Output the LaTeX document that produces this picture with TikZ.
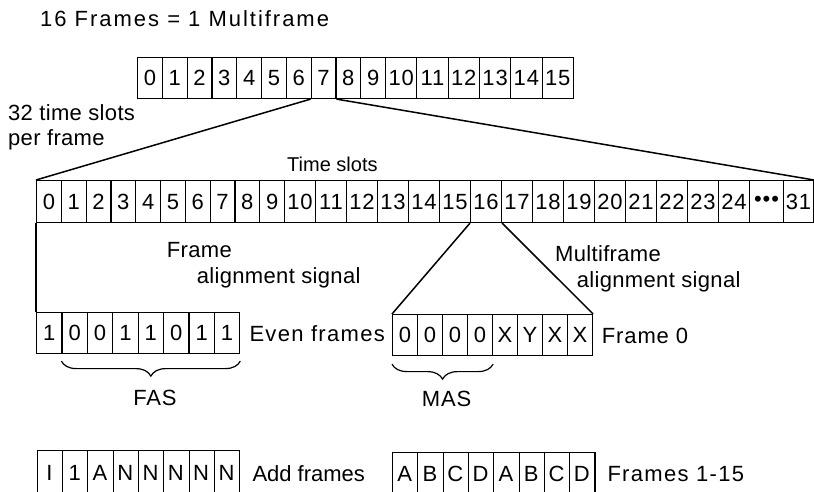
\documentclass[tikz,border=0pt]{standalone}
\usepackage{fontspec}
\setmainfont{Liberation Sans}[LetterSpace=4]
\newfontfamily\titlefont{Liberation Sans}[LetterSpace=9]
\newfontfamily\plainfont{Liberation Sans}
\newfontfamily\narrowfont{Liberation Sans}[LetterSpace=1.5]
\newfontfamily\widefont{Liberation Sans}[LetterSpace=6]
\usetikzlibrary{decorations.pathreplacing}
\begin{document}
\begin{tikzpicture}[x=1pt,y=-1pt,
  every node/.style={font=\fontsize{22}{25}\selectfont},
  cell/.style={draw, line width=1.1pt, inner sep=0pt, anchor=north west, minimum height=41pt},
  link/.style={line width=1.5pt},
  lbl/.style={inner sep=0pt, anchor=base west},
  multi/.style={inner sep=0pt, anchor=north west, align=left},
  brc/.style={decorate, decoration={brace, mirror, amplitude=15pt}, line width=1.2pt}]
\useasboundingbox (0,0) rectangle (814,491);

% title
\node[lbl, font=\titlefont\fontsize{22}{25}\selectfont] (title) at (40,26.7) {16 Frames = 1 Multiframe};

% multiframe row
\foreach \i in {0,...,9}
  \node[cell, minimum width=24.8pt] (f\i) at ({137+24.8*\i},57) {\i};
\foreach \i in {10,...,15}
  \node[cell, minimum width=31.3pt] (f\i) at ({385+31.3*(\i-10)},57) {\i};

\node[multi, font=\narrowfont\fontsize{22}{25}\selectfont] (tsl) at (8,104.5) {32 time slots\\per frame};

% time slot row
\foreach \i in {0,...,9}
  \node[cell, minimum width=24.8pt, minimum height=42pt] (t\i) at ({36+24.8*\i},180) {\i};
\foreach \i in {10,...,24}
  \node[cell, minimum width=31pt, minimum height=42pt] (t\i) at ({284+31*(\i-10)},180) {\i};
\node[cell, minimum width=34pt, minimum height=42pt] (tdots) at (749,180) {\textbullet\textbullet\textbullet};
\node[cell, minimum width=30pt, minimum height=42pt] (t31) at (783,180) {31};
\node[lbl, font=\plainfont\fontsize{20}{24}\selectfont] (tslabel) at (287,171.5) {Time slots};

% FAS row
\foreach \c [count=\i from 0] in {1,0,0,1,1,0,1,1}
  \node[cell, minimum width=25.4pt] (fas\i) at ({36+25.4*\i},312) {\c};
\node[lbl, font=\widefont\fontsize{22}{25}\selectfont] (even) at (249.3,341.7) {Even frames};

% MAS row
\foreach \c [count=\i from 0] in {0,0,0,0,X,Y,X,X}
  \node[cell, minimum width=25pt] (mas\i) at ({392+25*\i},314) {\c};
\node[lbl] (frame0) at (601.7,343.3) {Frame 0};

% labels of signals
\node[multi, font=\narrowfont\fontsize{22}{25}\selectfont] (fasl) at (166.7,241.7) {Frame\\[1.5pt]\hspace*{30pt}alignment signal};
\node[multi, font=\narrowfont\fontsize{22}{25}\selectfont] (masl) at (555,245) {Multiframe\\[1pt]\hspace*{21.7pt}alignment signal};

% braces
\draw[brc] ([yshift=-7pt]fas1.south west) -- ([yshift=-7pt]fas7.south east);
\node[inner sep=0pt, anchor=base] (faslbl) at (155,405) {FAS};
\draw[brc] ([yshift=-8pt]mas0.south west) -- ([yshift=-8pt]mas3.south east);
\node[inner sep=0pt, anchor=base] (maslbl) at (446.7,406.7) {MAS};

% bottom rows
\foreach \c [count=\i from 0] in {I,1,A,N,N,N,N,N}
  \node[cell, minimum width=25.3pt, minimum height=46pt] (add\i) at ({36.7+25.3*\i},450) {};
\foreach \c [count=\i from 0] in {I,1,A,N,N,N,N,N}
  \node[inner sep=0pt] (addt\i) at ({36.7+25.3*\i+12.65},473) {\c};
\node[lbl, font=\plainfont\fontsize{22}{25}\selectfont] (addl) at (252.3,481.7) {Add frames};
\foreach \c [count=\i from 0] in {A,B,C,D,A,B,C,D}
  \node[cell, minimum width=25.3pt, minimum height=46pt] (abc\i) at ({392+25.3*\i},452) {};
\foreach \c [count=\i from 0] in {A,B,C,D,A,B,C,D}
  \node[inner sep=0pt] (abct\i) at ({392+25.3*\i+12.65},473.5) {\c};
\node[lbl, font=\widefont\fontsize{22}{25}\selectfont] (framesl) at (607.3,481.7) {Frames 1-15};

% connectors
\draw[link] (f7.south west) -- (t0.north west);
\draw[link] (f7.south east) -- (t31.north east);
\draw[link] (t0.south west) -- (fas0.north west);
\draw[link] (t16.south west) -- (mas0.north west);
\draw[link] (t16.south east) -- (mas7.north east);
\end{tikzpicture}
\end{document}
